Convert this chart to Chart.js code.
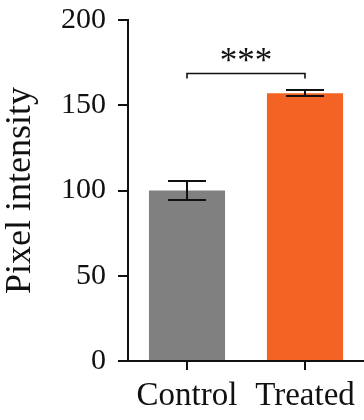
<!DOCTYPE html>
<html><head><meta charset="utf-8">
<script src="https://cdn.jsdelivr.net/npm/chart.js@4/dist/chart.umd.min.js"></script>
<style>html,body{margin:0;padding:0;background:#fff}</style>
</head><body>
<canvas id="c" width="364" height="420"></canvas>
<script>
const categories = ['Control', 'Treated'];
const means = [100, 157];
const errors = [5.6, 1.8];
const barColors = ['#7f807f', '#f26324'];
const yTicks = [0, 50, 100, 150, 200];
const yTitle = 'Pixel intensity';
const significance = '***';
const bracketValue = 169;

const FONT = '"Liberation Serif", "Times New Roman", serif';

const overlay = {
  id: 'overlay',
  afterDatasetsDraw(chart) {
    const {ctx, scales: {x, y}} = chart;
    ctx.save();
    ctx.strokeStyle = '#111';
    ctx.lineWidth = 2;
    means.forEach((m, i) => {
      const cx = Math.round(x.getPixelForValue(i));
      const top = Math.round(y.getPixelForValue(m + errors[i]));
      const bot = Math.round(y.getPixelForValue(m - errors[i]));
      ctx.beginPath();
      ctx.moveTo(cx, top); ctx.lineTo(cx, bot);
      ctx.moveTo(cx - 19, top); ctx.lineTo(cx + 19, top);
      ctx.moveTo(cx - 19, bot); ctx.lineTo(cx + 19, bot);
      ctx.stroke();
    });
    const by = Math.round(y.getPixelForValue(bracketValue)) + 0.5;
    const x0 = Math.round(x.getPixelForValue(0)), x1 = Math.round(x.getPixelForValue(1));
    ctx.lineWidth = 1.6;
    ctx.beginPath();
    ctx.moveTo(x0, by + 5); ctx.lineTo(x0, by); ctx.lineTo(x1, by); ctx.lineTo(x1, by + 5);
    ctx.stroke();
    ctx.fillStyle = '#111';
    ctx.font = '35px ' + FONT;
    ctx.textAlign = 'center';
    ctx.textBaseline = 'alphabetic';
    ctx.fillText(significance, (x0 + x1) / 2, by - 2);
    ctx.restore();
  }
};

new Chart(document.getElementById('c'), {
  type: 'bar',
  data: {
    labels: categories,
    datasets: [{
      data: means,
      backgroundColor: barColors,
      borderWidth: 0,
      categoryPercentage: 1,
      barPercentage: 0.645
    }]
  },
  options: {
    responsive: false,
    devicePixelRatio: 1,
    animation: false,
    layout: {padding: {top: 20, right: 0, left: 0, bottom: 0}},
    plugins: {legend: {display: false}, tooltip: {enabled: false}},
    scales: {
      x: {
        offset: true,
        grid: {display: true, drawOnChartArea: false, drawTicks: true, tickLength: 9, offset: false, color: '#111', lineWidth: 2},
        border: {display: true, color: '#111', width: 2},
        ticks: {color: '#111', padding: 10, font: {family: FONT, size: 33, lineHeight: 1}, maxRotation: 0},
        afterFit(s) { s.height = 59; s.paddingLeft = 0; s.paddingRight = 0; }
      },
      y: {
        min: 0, max: 200,
        afterBuildTicks(s) { s.ticks = yTicks.map(v => ({value: v})); },
        grid: {display: true, drawOnChartArea: false, drawTicks: true, tickLength: 10, color: '#111', lineWidth: 2},
        border: {display: true, color: '#111', width: 2},
        ticks: {color: '#111', padding: 12, font: {family: FONT, size: 30, lineHeight: 1}},
        title: {display: true, text: yTitle, color: '#111', padding: {top: 4, bottom: 0}, font: {family: FONT, size: 36, lineHeight: 0.9}},
        afterFit(s) { s.width = 128; s.paddingTop = 0; s.paddingBottom = 0; }
      }
    }
  },
  plugins: [overlay]
});
</script>
</body></html>
